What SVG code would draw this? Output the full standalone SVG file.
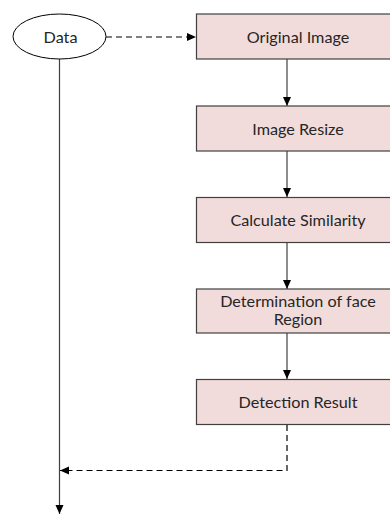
<svg xmlns="http://www.w3.org/2000/svg" width="390" height="515" viewBox="0 0 390 515">
<defs>
<style>
.box{fill:#f2dcdb;stroke:#404040;stroke-width:1.2}
.ell{fill:#fff;stroke:#000;stroke-width:1}
.t{font-family:Lato,"Open Sans","Liberation Sans",sans-serif;font-size:16.2px;fill:#262626;text-anchor:middle}
.ln{fill:none;stroke:#404040;stroke-width:1.2}
.dash{fill:none;stroke:#000;stroke-width:1.2;stroke-dasharray:6,4}
</style>
<marker id="ah" markerWidth="10" markerHeight="10" refX="9" refY="5" orient="auto" markerUnits="userSpaceOnUse">
<path d="M0,1 L9,5 L0,9 Z" fill="#000"/>
</marker>
</defs>
<g id="connectors">
<path class="dash" d="M106,37 H196" marker-end="url(#ah)"/>
<path class="ln" d="M287,59 V106" marker-end="url(#ah)"/>
<path class="ln" d="M287,151 V197" marker-end="url(#ah)"/>
<path class="ln" d="M287,243 V289" marker-end="url(#ah)"/>
<path class="ln" d="M287,333 V379" marker-end="url(#ah)"/>
<path class="dash" d="M287,425 V470.5 H60" marker-end="url(#ah)"/>
<path class="ln" d="M59.5,59 V514" marker-end="url(#ah)"/>
</g>
<g id="data">
<ellipse class="ell" cx="59.5" cy="36.5" rx="46.5" ry="22.5"/>
<text class="t" x="60.5" y="42.5">Data</text>
</g>
<g id="original">
<rect class="box" x="196.5" y="14" width="210" height="45"/>
<text class="t" x="298" y="42.5">Original Image</text>
</g>
<g id="resize">
<rect class="box" x="196.5" y="106" width="210" height="45"/>
<text class="t" x="298" y="134.5">Image Resize</text>
</g>
<g id="similarity">
<rect class="box" x="196.5" y="197.5" width="210" height="45"/>
<text class="t" x="298" y="226">Calculate Similarity</text>
</g>
<g id="region">
<rect class="box" x="196.5" y="289" width="210" height="44"/>
<text class="t" x="298" y="306.5">Determination of face</text>
<text class="t" x="298" y="325">Region</text>
</g>
<g id="result">
<rect class="box" x="196.5" y="379.5" width="210" height="45"/>
<text class="t" x="298" y="408">Detection Result</text>
</g>
</svg>
